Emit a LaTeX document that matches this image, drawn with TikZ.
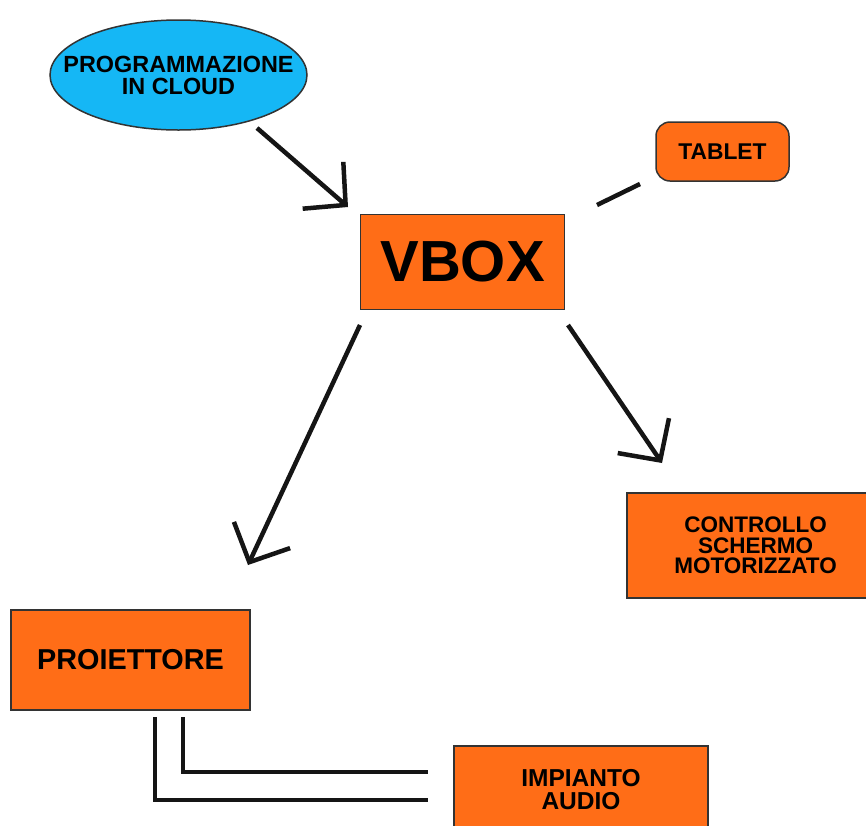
\documentclass[tikz,border=0pt]{standalone}
\usepackage{fontspec}
\setmainfont{Liberation Sans}
\usetikzlibrary{arrows.meta,shapes.geometric}
\definecolor{orng}{HTML}{FF6D17}
\definecolor{sky}{HTML}{15B7F5}
\definecolor{edge}{HTML}{333333}
\definecolor{ink}{HTML}{151515}
\tikzset{
  box/.style={draw=edge, line width=1.5pt, fill=orng, inner sep=0pt, align=center, font=\bfseries},
  conn/.style={draw=ink, line width=4.5pt},
  arr/.style={conn, -{Straight Barb[length=30pt,width=62pt]}},
}
\begin{document}
\begin{tikzpicture}[x=1pt,y=-1pt]
\useasboundingbox (0,0) rectangle (866,825);
\node[draw=edge, line width=1.5pt, fill=sky, ellipse, minimum width=257pt, minimum height=110pt, inner sep=0pt] (cloud) at (178.5,75) {};
\node[inner sep=0pt, align=center, font=\bfseries\fontsize{23.4}{22}\selectfont] (cloudtxt) at (cloud.center) {PROGRAMMAZIONE\\IN CLOUD};
\node[box, rounded corners=14pt, minimum width=133pt, minimum height=59pt, font=\bfseries\fontsize{22.8}{22}\selectfont] (tablet) at (722.5,151.5) {TABLET};
\node[box, minimum width=204pt, minimum height=95pt, font=\bfseries\fontsize{58}{60}\selectfont] (vbox) at (462.5,262) {VBOX};
\node[box, minimum width=257pt, minimum height=105pt, font=\bfseries\fontsize{22.5}{20.5}\selectfont] (ctrl) at (755.5,545.5) {CONTROLLO\\SCHERMO\\MOTORIZZATO};
\node[box, minimum width=239pt, minimum height=100pt, font=\bfseries\fontsize{28.8}{30}\selectfont] (proj) at (130.5,660) {PROIETTORE};
\node[box, minimum width=254pt, minimum height=88pt, font=\bfseries\fontsize{24.5}{23}\selectfont] (audio) at (581,790) {IMPIANTO\\AUDIO};
% connector end points
\coordinate (c1s) at (257,128); \coordinate (c1e) at (348,207);
\coordinate (t1s) at (597,205); \coordinate (t1e) at (640,184);
\coordinate (p1s) at (360,325); \coordinate (p1e) at (248,565);
\coordinate (m1s) at (568,325); \coordinate (m1e) at (662,463);
\coordinate (a1s) at (183,717); \coordinate (a1e) at (428,772);
\coordinate (a2s) at (155,717); \coordinate (a2e) at (428,800);
\draw[arr] (c1s) -- (c1e);
\draw[conn] (t1s) -- (t1e);
\draw[arr] (p1s) -- (p1e);
\draw[arr] (m1s) -- (m1e);
\draw[conn] (a1s) |- (a1e);
\draw[conn] (a2s) |- (a2e);
\end{tikzpicture}
\end{document}
